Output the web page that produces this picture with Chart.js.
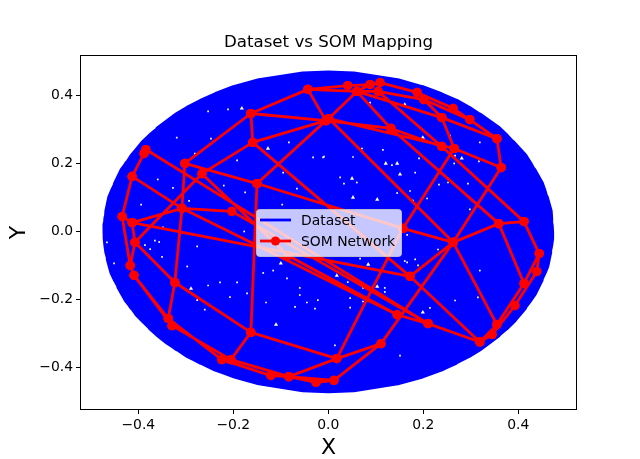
<!DOCTYPE html>
<html>
<head>
<meta charset="utf-8">
<title>Dataset vs SOM Mapping</title>
<script src="https://cdn.jsdelivr.net/npm/chart.js@4/dist/chart.umd.min.js"></script>
<style>
  html, body { margin: 0; padding: 0; background: #fff; }
  canvas { display: block; }
</style>
</head>
<body>
<canvas id="chart" width="640" height="459"></canvas>
<script>
const xTicks = [-0.4, -0.2, 0, 0.2, 0.4];
const yTicks = [-0.4, -0.2, 0, 0.2, 0.4];
const legendLabels = ['Dataset', 'SOM Network'];

// Blue dataset: swept rim to rim, top to bottom, so it reads as the solid disc
const sweepX = [
  -0.053, 0.053, 0.145, -0.145, -0.197, 0.197, 0.235, -0.235, -0.267, 0.267, 0.294, -0.294,
  -0.317, 0.317, 0.337, -0.337, -0.356, 0.356, 0.372, -0.372, -0.386, 0.386, 0.399, -0.399,
  -0.411, 0.411, 0.421, -0.421, -0.430, 0.430, 0.438, -0.438, -0.445, 0.445, 0.451, -0.451,
  -0.456, 0.456, 0.460, -0.460, -0.463, 0.463, 0.465, -0.465, -0.466, 0.466, 0.467, -0.467,
  -0.466, 0.466, 0.465, -0.465, -0.463, 0.463, 0.460, -0.460, -0.456, 0.456, 0.451, -0.451,
  -0.445, 0.445, 0.438, -0.438, -0.430, 0.430, 0.421, -0.421, -0.411, 0.411, 0.399, -0.399,
  -0.386, 0.386, 0.372, -0.372, -0.356, 0.356, 0.337, -0.337, -0.317, 0.317, 0.294, -0.294,
  -0.267, 0.267, 0.235, -0.235, -0.197, 0.197, 0.145, -0.145, -0.053, 0.053
];
const sweepY = [
  0.46, 0.46, 0.44, 0.44, 0.42, 0.42, 0.40, 0.40, 0.38, 0.38, 0.36, 0.36,
  0.34, 0.34, 0.32, 0.32, 0.30, 0.30, 0.28, 0.28, 0.26, 0.26, 0.24, 0.24,
  0.22, 0.22, 0.20, 0.20, 0.18, 0.18, 0.16, 0.16, 0.14, 0.14, 0.12, 0.12,
  0.10, 0.10, 0.08, 0.08, 0.06, 0.06, 0.04, 0.04, 0.02, 0.02, 0, 0,
  -0.02, -0.02, -0.04, -0.04, -0.06, -0.06, -0.08, -0.08, -0.10, -0.10, -0.12, -0.12,
  -0.14, -0.14, -0.16, -0.16, -0.18, -0.18, -0.20, -0.20, -0.22, -0.22, -0.24, -0.24,
  -0.26, -0.26, -0.28, -0.28, -0.30, -0.30, -0.32, -0.32, -0.34, -0.34, -0.36, -0.36,
  -0.38, -0.38, -0.40, -0.40, -0.42, -0.42, -0.44, -0.44, -0.46, -0.46
];
// then once round the edge, so the outline stays even
const rimX = [
  0.145, 0.197, 0.236, 0.266, 0.294, 0.318, 0.337, 0.355, 0.372, 0.387, 0.399, 0.410,
  0.421, 0.431, 0.438, 0.444, 0.451, 0.457, 0.460, 0.462, 0.465, 0.467, 0.467, 0.466,
  0.465, 0.464, 0.460, 0.455, 0.451, 0.446, 0.438, 0.429, 0.421, 0.412, 0.399, 0.385,
  0.372, 0.357, 0.337, 0.316, 0.294, 0.268, 0.235, 0.196, 0.145, 0.053, 0,
  -0.053, -0.145, -0.198, -0.235, -0.266, -0.294, -0.318, -0.337, -0.355, -0.372, -0.387, -0.399,
  -0.411, -0.420, -0.431, -0.438, -0.444, -0.451, -0.457, -0.460, -0.463, -0.464, -0.467, -0.467,
  -0.466, -0.465, -0.463, -0.459, -0.456, -0.452, -0.445, -0.437, -0.430, -0.422, -0.410, -0.400,
  -0.386, -0.371, -0.356, -0.338, -0.316, -0.295, -0.266, -0.236, -0.196, -0.145, -0.053, 0, 0.053
];
const rimY = [
  -0.44, -0.42, -0.40, -0.38, -0.36, -0.34, -0.32, -0.30, -0.28, -0.26, -0.24, -0.22,
  -0.20, -0.18, -0.16, -0.14, -0.12, -0.10, -0.08, -0.06, -0.04, -0.02, 0, 0.02,
  0.04, 0.06, 0.08, 0.10, 0.12, 0.14, 0.16, 0.18, 0.20, 0.22, 0.24, 0.26,
  0.28, 0.30, 0.32, 0.34, 0.36, 0.38, 0.40, 0.42, 0.44, 0.46, 0.463,
  0.46, 0.44, 0.42, 0.40, 0.38, 0.36, 0.34, 0.32, 0.30, 0.28, 0.26, 0.24,
  0.22, 0.20, 0.18, 0.16, 0.14, 0.12, 0.10, 0.08, 0.06, 0.04, 0.02, 0,
  -0.02, -0.04, -0.06, -0.08, -0.10, -0.12, -0.14, -0.16, -0.18, -0.20, -0.22, -0.24,
  -0.26, -0.28, -0.30, -0.32, -0.34, -0.36, -0.38, -0.40, -0.42, -0.44, -0.46, -0.463, -0.46
];

// Uncovered spots in the blue disc
const gapLargeX = [-0.127, -0.182, 0.161, 0.199, 0.121, 0.145, 0.151, 0.050, 0.052, 0.103, 0.281, 0.084, 0.103, 0.018, -0.289, -0.100, -0.110, 0.199];
const gapLargeY = [0.245, 0.363, 0.374, 0.277, 0.201, 0.201, 0.169, 0.157, 0.101, 0.095, 0.216, -0.096, -0.161, -0.129, -0.167, -0.093, -0.273, -0.237];
const gapSmallX = [
  0.317, 0.267, 0.265, 0.252, 0.298, 0.183, 0.189, 0.231, -0.228, -0.192, -0.177, -0.260, -0.131, -0.028, -0.116, -0.087,
  -0.045, -0.171, -0.253, -0.365, -0.276, -0.451, -0.466, -0.297, -0.095, -0.097, -0.175, -0.220, -0.247, -0.319, -0.211, -0.253,
  -0.032, -0.066, -0.011, -0.083, -0.192, -0.281, -0.359, -0.394, -0.348, -0.009, 0.088, 0.183, 0.071, 0.033, 0.060, 0.025,
  0.319, 0.256, 0.191, 0.294, 0.233, 0.178, 0.208, 0.073, 0.046, 0.319, 0.315, 0.267, 0.151, 0.014, 0.166, 0.067,
  -0.327, -0.293, -0.356, -0.386, -0.375, -0.350, -0.060, -0.022, -0.070, 0.046, 0.119, 0.073, 0.041, 0.161, 0.214, 0.119,
  0.145, 0.172, 0.115, 0.052, 0.134, 0.166, -0.060, -0.137, -0.207, -0.276
];
const gapSmallY = [
  0.207, 0.224, 0.201, 0.145, 0.066, -0.081, -0.099, -0.052, -0.149, -0.149, 0.001, -0.229, -0.208, -0.226, -0.114, -0.137,
  -0.208, -0.181, -0.158, -0.026, -0.043, -0.093, -0.031, -0.102, 0.174, 0.080, 0.116, 0.136, 0.274, 0.277, 0.360, 0.354,
  0.219, 0.127, 0.219, 0.263, 0.210, 0.230, 0.154, 0.080, 0.013, 0.221, 0.380, 0.174, 0.245, 0.142, 0.145, 0.160,
  0.263, 0.283, 0.216, 0.142, 0.139, 0.092, 0.098, -0.205, -0.223, -0.114, -0.193, -0.202, -0.364, -0.334, -0.090, -0.079,
  0.129, 0.091, -0.030, -0.039, -0.051, -0.074, -0.186, -0.201, -0.221, -0.195, -0.165, -0.165, -0.148, -0.086, -0.224, -0.177,
  0.114, 0.120, 0.241, 0.220, 0.196, -0.009, -0.165, -0.121, -0.192, -0.201
];

// SOM nodes and the links between them
const nodeX = [
  -0.043, -0.163, -0.005, 0.001, -0.159, -0.384, -0.388, -0.302, -0.266, -0.413,
  -0.150, -0.308, -0.203, -0.434, -0.413, -0.407, -0.417, -0.409, -0.323, -0.337,
  -0.329, -0.163, -0.224, -0.205, -0.121, -0.083, -0.026, 0.012, 0.018, 0.111,
  0.145, 0.210, 0.172, 0.263, 0.157, -0.085, 0.319, 0.345, 0.355, 0.393,
  0.412, 0.439, 0.444, 0.412, 0.359, 0.364, 0.355, 0.265, 0.239, 0.132,
  0.239, 0.298, 0.263, 0.201, 0.187, 0.105, 0.109, 0.088, 0.041, 0.060
];
const nodeY = [
  0.419, 0.348, 0.327, 0.333, 0.263, 0.242, 0.230, 0.201, 0.171, 0.163,
  0.142, 0.069, 0.060, 0.045, 0.027, -0.031, -0.099, -0.128, -0.149, -0.255,
  -0.276, -0.296, -0.376, -0.376, -0.423, -0.426, -0.443, -0.437, -0.373, -0.329,
  -0.244, -0.270, -0.131, -0.031, 0.010, -0.070, -0.324, -0.302, -0.273, -0.217,
  -0.152, -0.117, -0.064, 0.030, 0.024, 0.189, 0.274, 0.245, 0.251, 0.304,
  0.336, 0.330, 0.363, 0.389, 0.410, 0.413, 0.439, 0.433, 0.430, 0.413
];
const linkFrom = [
  0, 0, 0, 0, 1, 1, 1, 4, 4, 4, 2, 7, 10, 10, 5, 6, 9, 13, 13, 14, 15, 16, 17, 17, 19,
  5, 9, 14, 11, 11, 11, 15, 15, 18, 18, 12, 8, 35, 11, 14, 30, 31, 32, 32, 33, 33, 33, 33, 33,
  3, 28, 34, 29, 29, 28, 21, 21, 19, 20, 22, 22, 23, 24, 25, 26, 25,
  36, 36, 38, 37, 39, 40, 41, 40, 42, 43, 43, 44, 45, 45, 46, 46, 46,
  48, 49, 47, 3, 55, 59, 50, 53, 51, 52, 54, 53, 58, 57, 59, 59, 49
];
const linkTo = [
  1, 2, 58, 59, 4, 2, 7, 2, 8, 32, 10, 10, 34, 21, 6, 9, 13, 16, 14, 15, 16, 17, 19, 20, 20,
  31, 11, 11, 12, 7, 18, 8, 18, 19, 21, 31, 35, 30, 30, 32, 31, 36, 36, 33, 34, 44, 29, 38, 45,
  33, 34, 47, 28, 27, 25, 28, 23, 22, 23, 23, 24, 25, 25, 26, 27, 27,
  37, 38, 40, 39, 41, 42, 42, 44, 43, 44, 48, 49, 46, 47, 50, 51, 52,
  49, 2, 3, 59, 48, 50, 47, 50, 53, 54, 56, 55, 57, 56, 57, 55, 59
];

const somPoints = [];
linkFrom.forEach((from, i) => {
  somPoints.push({ x: nodeX[from], y: nodeY[from] });
  somPoints.push({ x: nodeX[linkTo[i]], y: nodeY[linkTo[i]] });
  somPoints.push({ x: NaN, y: NaN }); // break the line between links
});

const toPoints = (xs, ys) => xs.map((x, i) => ({ x: x, y: ys[i] }));
const tickText = v => v.toFixed(1).replace('-', '\u2212');
const FONT = '"DejaVu Sans", sans-serif';

// Matplotlib style box around the plot and the legend in the middle of it
const framePlugin = {
  id: 'frame',
  afterDatasetsDraw(chart) {
    const { ctx, chartArea: a } = chart;
    ctx.save();
    ctx.strokeStyle = '#000';
    ctx.lineWidth = 1;
    ctx.strokeRect(a.left - 0.5, a.top - 0.5, a.width + 1, a.height + 1);

    ctx.beginPath();
    ctx.roundRect(256.5, 209.5, 145, 47, 3);
    ctx.fillStyle = 'rgba(255,255,255,0.78)';
    ctx.fill();
    ctx.strokeStyle = 'rgba(204,204,204,0.8)';
    ctx.stroke();

    ctx.lineWidth = 2.8;
    ctx.strokeStyle = '#0000ff';
    ctx.beginPath(); ctx.moveTo(260, 220); ctx.lineTo(291, 220); ctx.stroke();
    ctx.strokeStyle = '#ff0000';
    ctx.beginPath(); ctx.moveTo(260, 241); ctx.lineTo(291, 241); ctx.stroke();
    ctx.fillStyle = '#ff0000';
    ctx.beginPath(); ctx.arc(275.5, 241, 4.6, 0, Math.PI * 2); ctx.fill();

    ctx.fillStyle = '#000';
    ctx.font = '13.9px ' + FONT;
    ctx.textBaseline = 'middle';
    ctx.fillText(legendLabels[0], 301, 221);
    ctx.fillText(legendLabels[1], 301, 242);
    ctx.restore();
  }
};

new Chart(document.getElementById('chart').getContext('2d'), {
  type: 'scatter',
  data: {
    datasets: [
      {
        label: legendLabels[0],
        data: toPoints(sweepX.concat(rimX), sweepY.concat(rimY)),
        showLine: true,
        borderColor: '#0000ff',
        backgroundColor: '#0000ff',
        borderWidth: 8,
        borderJoinStyle: 'round',
        borderCapStyle: 'round',
        pointRadius: 0,
        order: 4
      },
      {
        label: 'gaps',
        data: toPoints(gapLargeX, gapLargeY),
        showLine: false,
        pointStyle: 'triangle',
        pointRadius: 2.4,
        pointBorderWidth: 0,
        pointBackgroundColor: '#fff',
        order: 3
      },
      {
        label: 'small gaps',
        data: toPoints(gapSmallX, gapSmallY),
        showLine: false,
        pointStyle: 'rect',
        pointRadius: 1.2,
        pointBorderWidth: 0,
        pointBackgroundColor: '#fff',
        order: 2
      },
      {
        label: legendLabels[1],
        data: somPoints,
        showLine: true,
        spanGaps: false,
        borderColor: '#ff0000',
        backgroundColor: '#ff0000',
        borderWidth: 2.8,
        pointRadius: 4.6,
        pointBorderWidth: 0,
        pointBackgroundColor: '#ff0000',
        order: 1
      }
    ]
  },
  options: {
    responsive: false,
    animation: false,
    layout: { padding: { right: 64 } },
    plugins: {
      legend: { display: false },
      tooltip: { enabled: false },
      title: {
        display: true,
        fullSize: false,
        text: 'Dataset vs SOM Mapping',
        color: '#000',
        font: { family: FONT, size: 16.67, weight: 'normal' },
        padding: { top: 33, bottom: 3 }
      }
    },
    scales: {
      x: {
        type: 'linear',
        min: -0.5206,
        max: 0.5215,
        afterFit(scale) { scale.height = 50; },
        afterBuildTicks(scale) { scale.ticks = xTicks.map(v => ({ value: v })); },
        grid: { drawOnChartArea: false, tickLength: 5, tickColor: '#000' },
        border: { display: false },
        ticks: {
          color: '#000',
          font: { family: FONT, size: 13.9 },
          padding: 3,
          maxRotation: 0,
          autoSkip: false,
          callback: tickText
        },
        title: {
          display: true,
          text: 'X',
          color: '#000',
          font: { family: FONT, size: 22, lineHeight: 1 },
          padding: { top: 0, bottom: 0 }
        }
      },
      y: {
        type: 'linear',
        min: -0.5212,
        max: 0.5171,
        afterFit(scale) { scale.width = 81; },
        afterBuildTicks(scale) { scale.ticks = yTicks.map(v => ({ value: v })); },
        grid: { drawOnChartArea: false, tickLength: 5, tickColor: '#000' },
        border: { display: false },
        ticks: {
          color: '#000',
          font: { family: FONT, size: 13.9 },
          padding: 3,
          autoSkip: false,
          callback: tickText
        },
        title: {
          display: true,
          text: 'Y',
          color: '#000',
          font: { family: FONT, size: 22, lineHeight: 1 },
          padding: { top: 8, bottom: 0 }
        }
      }
    }
  },
  plugins: [framePlugin]
});
</script>
</body>
</html>
